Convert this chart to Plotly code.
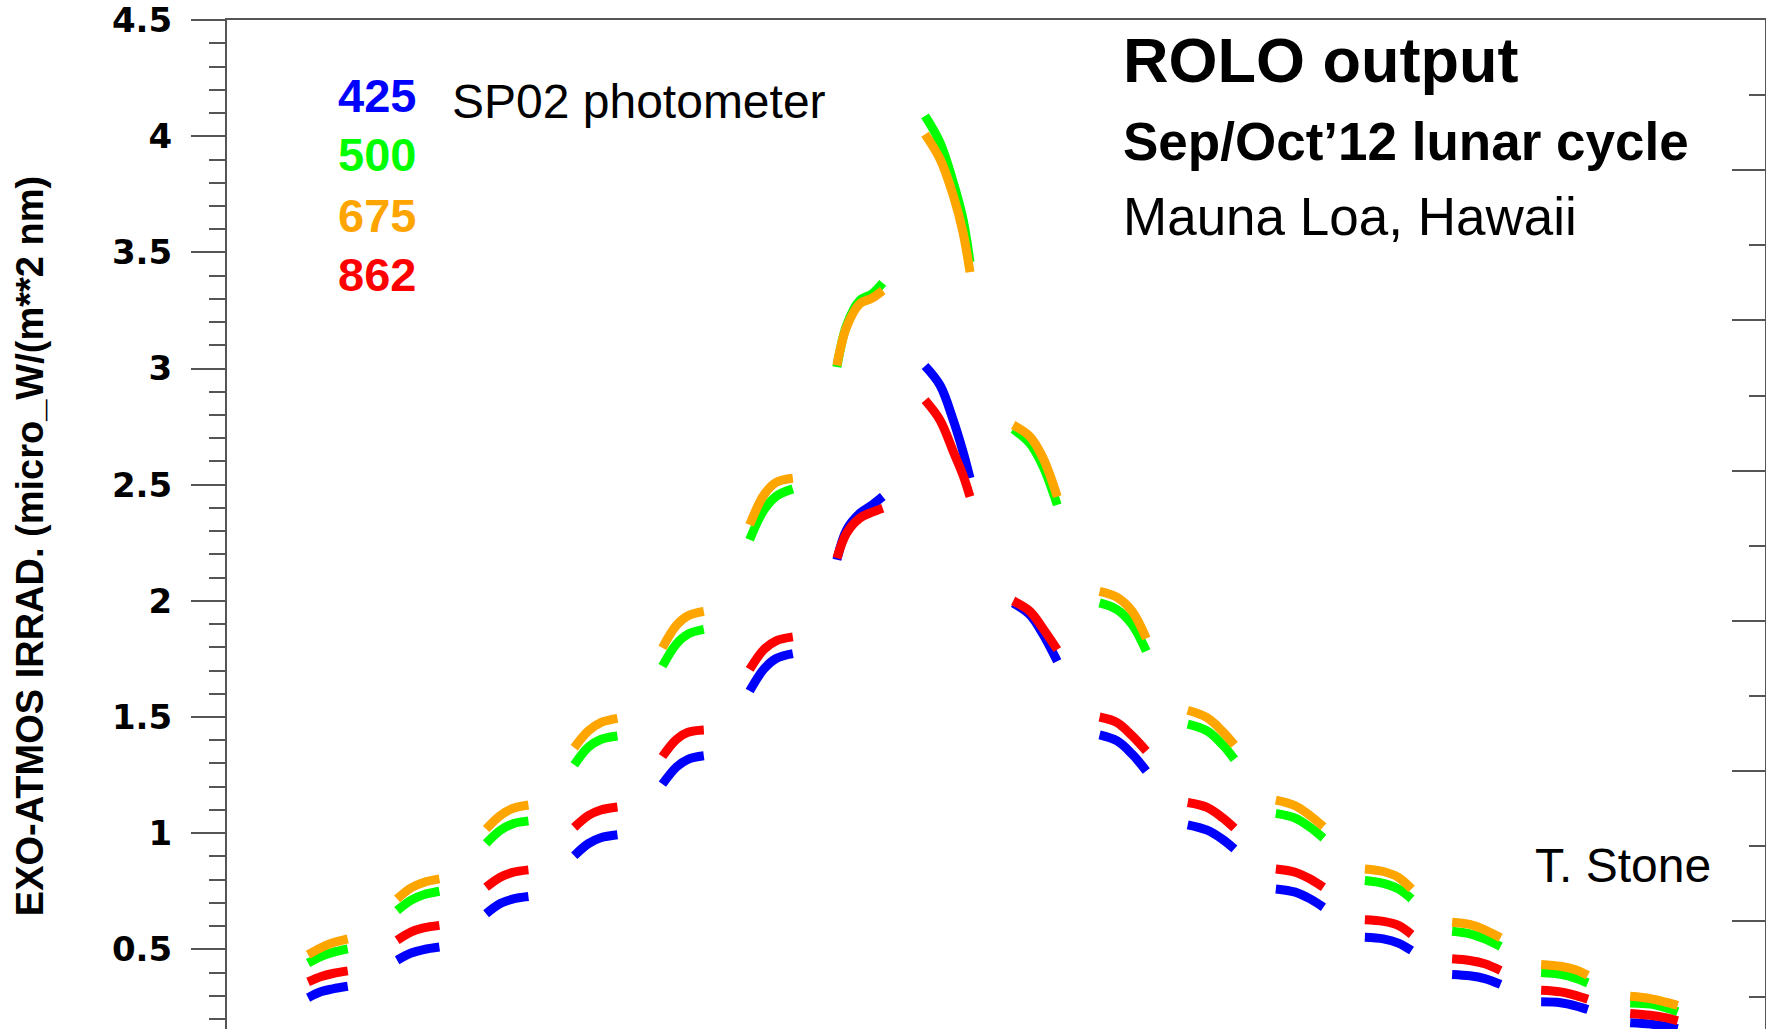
import plotly.graph_objects as go

# ROLO lunar irradiance, SP02 bands, one arc per night (x = day of Sep 2012, HST)
bands = ["425", "500", "675", "862"]
band_colors = {"425": "#0000ff", "500": "#00ff00", "675": "#ffa500", "862": "#ff0000"}
draw_order = ["425", "500", "862", "675"]

night_times = [
    [22.32, 22.47, 22.60, 22.77],
    [23.33, 23.49, 23.63, 23.81],
    [24.34, 24.50, 24.64, 24.82],
    [25.34, 25.50, 25.64, 25.83],
    [26.34, 26.50, 26.63, 26.81],
    [27.33, 27.49, 27.63, 27.82],
    [28.32, 28.43, 28.58, 28.72, 28.84],
    [29.32, 29.49, 29.64, 29.75, 29.83],
    [30.32, 30.51, 30.66, 30.82],
    [31.30, 31.50, 31.67, 31.83],
    [32.30, 32.52, 32.69, 32.83],
    [33.30, 33.52, 33.69, 33.84],
    [34.31, 34.52, 34.69, 34.84],
    [35.30, 35.50, 35.67, 35.85],
    [36.31, 36.53, 36.70, 36.84],
    [37.32, 37.55, 37.72, 37.86],
]

irr_425 = [
    [0.292, 0.318, 0.330, 0.341],
    [0.453, 0.484, 0.499, 0.510],
    [0.653, 0.697, 0.716, 0.727],
    [0.903, 0.955, 0.980, 0.993],
    [1.211, 1.285, 1.318, 1.333],
    [1.612, 1.706, 1.752, 1.773],
    [2.177, 2.306, 2.377, 2.413, 2.449],
    [3.011, 2.928, 2.778, 2.643, 2.528],
    [1.990, 1.940, 1.855, 1.740],
    [1.423, 1.397, 1.340, 1.268],
    [1.036, 1.013, 0.975, 0.932],
    [0.760, 0.746, 0.717, 0.681],
    [0.552, 0.545, 0.527, 0.495],
    [0.392, 0.386, 0.374, 0.349],
    [0.274, 0.270, 0.257, 0.241],
    [0.184, 0.178, 0.169, 0.159],
]

irr_500 = [
    [0.441, 0.470, 0.487, 0.502],
    [0.667, 0.712, 0.735, 0.750],
    [0.956, 1.012, 1.040, 1.053],
    [1.294, 1.370, 1.403, 1.418],
    [1.719, 1.815, 1.857, 1.877],
    [2.263, 2.390, 2.450, 2.482],
    [3.007, 3.186, 3.293, 3.322, 3.369],
    [4.088, 3.973, 3.802, 3.644, 3.458],
    [2.740, 2.678, 2.578, 2.413],
    [1.991, 1.962, 1.898, 1.784],
    [1.469, 1.440, 1.383, 1.318],
    [1.085, 1.065, 1.025, 0.979],
    [0.796, 0.784, 0.760, 0.717],
    [0.578, 0.567, 0.545, 0.512],
    [0.400, 0.392, 0.376, 0.355],
    [0.269, 0.264, 0.249, 0.231],
]

irr_675 = [
    [0.477, 0.508, 0.528, 0.545],
    [0.717, 0.765, 0.788, 0.803],
    [1.018, 1.076, 1.106, 1.121],
    [1.368, 1.440, 1.476, 1.494],
    [1.798, 1.895, 1.936, 1.955],
    [2.327, 2.455, 2.510, 2.528],
    [3.014, 3.179, 3.279, 3.303, 3.336],
    [4.009, 3.902, 3.745, 3.587, 3.415],
    [2.757, 2.707, 2.614, 2.449],
    [2.041, 2.015, 1.955, 1.838],
    [1.529, 1.497, 1.440, 1.380],
    [1.142, 1.118, 1.075, 1.028],
    [0.846, 0.835, 0.810, 0.760],
    [0.617, 0.607, 0.584, 0.550],
    [0.435, 0.427, 0.412, 0.388],
    [0.298, 0.288, 0.273, 0.259],
]

irr_862 = [
    [0.360, 0.383, 0.396, 0.407],
    [0.539, 0.575, 0.592, 0.603],
    [0.767, 0.810, 0.831, 0.842],
    [1.025, 1.076, 1.100, 1.113],
    [1.330, 1.404, 1.434, 1.444],
    [1.705, 1.790, 1.828, 1.845],
    [2.184, 2.292, 2.356, 2.382, 2.399],
    [2.864, 2.778, 2.643, 2.542, 2.449],
    [2.000, 1.955, 1.880, 1.790],
    [1.500, 1.476, 1.419, 1.354],
    [1.132, 1.111, 1.068, 1.022],
    [0.846, 0.832, 0.803, 0.767],
    [0.627, 0.620, 0.603, 0.564],
    [0.459, 0.452, 0.438, 0.409],
    [0.324, 0.317, 0.302, 0.285],
    [0.224, 0.216, 0.206, 0.192],
]

irradiance = {"425": irr_425, "500": irr_500, "675": irr_675, "862": irr_862}

AXIS_COLOR = "#555555"
FONT = "Liberation Sans, Arial, sans-serif"

fig = go.Figure()

for band in draw_order:
    xs, ys = [], []
    for t, v in zip(night_times, irradiance[band]):
        xs += t + [None]
        ys += v + [None]
    fig.add_trace(go.Scatter(
        x=xs, y=ys,
        mode='lines',
        name=band,
        line=dict(color=band_colors[band], width=9, shape='spline'),
        connectgaps=False,
        hoverinfo='skip'
    ))

# empty trace so the right-hand axis gets drawn
fig.add_trace(go.Scatter(x=[], y=[], yaxis='y2', showlegend=False))

# pixel -> paper helpers (plot area 227..1765 x 17.5..1029)
def px(x):
    return (x - 227) / 1538.0

def py(y):
    return (1029 - y) / 1011.5

annotations = []
for band, ypix in zip(bands, [93, 152, 213, 273]):
    annotations.append(dict(
        x=px(336), y=py(ypix), xref='paper', yref='paper',
        xanchor='left', yanchor='middle', showarrow=False,
        text=band, font=dict(family=FONT, size=47, color=band_colors[band], weight='bold')
    ))

annotations += [
    dict(x=px(450), y=py(99), text="SP02 photometer",
         font=dict(family=FONT, size=48, color='black')),
    dict(x=px(1121), y=py(58), text="ROLO output",
         font=dict(family=FONT, size=63, color='black', weight='bold')),
    dict(x=px(1121), y=py(139), text="Sep/Oct’12 lunar cycle",
         font=dict(family=FONT, size=53, color='black', weight='bold')),
    dict(x=px(1121), y=py(214), text="Mauna Loa, Hawaii",
         font=dict(family=FONT, size=53, color='black')),
    dict(x=px(1533), y=py(865), text="T. Stone",
         font=dict(family=FONT, size=48, color='black')),
]
for a in annotations[4:]:
    a.update(xref='paper', yref='paper', xanchor='left', yanchor='middle', showarrow=False)

annotations.append(dict(
    x=px(30), y=py(545), xref='paper', yref='paper',
    xanchor='center', yanchor='middle', showarrow=False, textangle=-90,
    text="EXO-ATMOS IRRAD. (micro_W/(m**2 nm)",
    font=dict(family=FONT, size=38, color='black', weight='bold')
))

fig.update_layout(
    width=1766, height=1029,
    margin=dict(l=227, r=1, t=17.5, b=0),
    paper_bgcolor='white', plot_bgcolor='white',
    showlegend=False,
    hovermode=False,
    annotations=annotations,
    xaxis=dict(
        range=[21.4, 38.85], side='top',
        showline=True, linecolor=AXIS_COLOR, linewidth=2,
        ticks='', showticklabels=False, showgrid=False, zeroline=False
    ),
    yaxis=dict(
        range=[0.157, 4.5005], tick0=0, dtick=0.5,
        showline=True, linecolor=AXIS_COLOR, linewidth=2,
        ticks='outside', ticklen=34, tickwidth=2, tickcolor=AXIS_COLOR,
        minor=dict(dtick=0.1, ticks='outside', ticklen=16, tickwidth=2, tickcolor=AXIS_COLOR),
        tickfont=dict(family="DejaVu Sans", size=34, color='black', weight='bold'),
        ticklabelstandoff=12, ticklabeloverflow='allow',
        showgrid=False, zeroline=False
    ),
    yaxis2=dict(
        overlaying='y', side='right', range=[0.284, 7], tick0=0, dtick=1,
        showline=True, linecolor=AXIS_COLOR, linewidth=2,
        ticks='inside', ticklen=33, tickwidth=2, tickcolor=AXIS_COLOR,
        minor=dict(dtick=0.5, ticks='inside', ticklen=16, tickwidth=2, tickcolor=AXIS_COLOR),
        showticklabels=False, showgrid=False, zeroline=False
    ),
)

fig.write_html("out.html", config={'displayModeBar': False},
               post_script="document.body.style.margin='0';")
